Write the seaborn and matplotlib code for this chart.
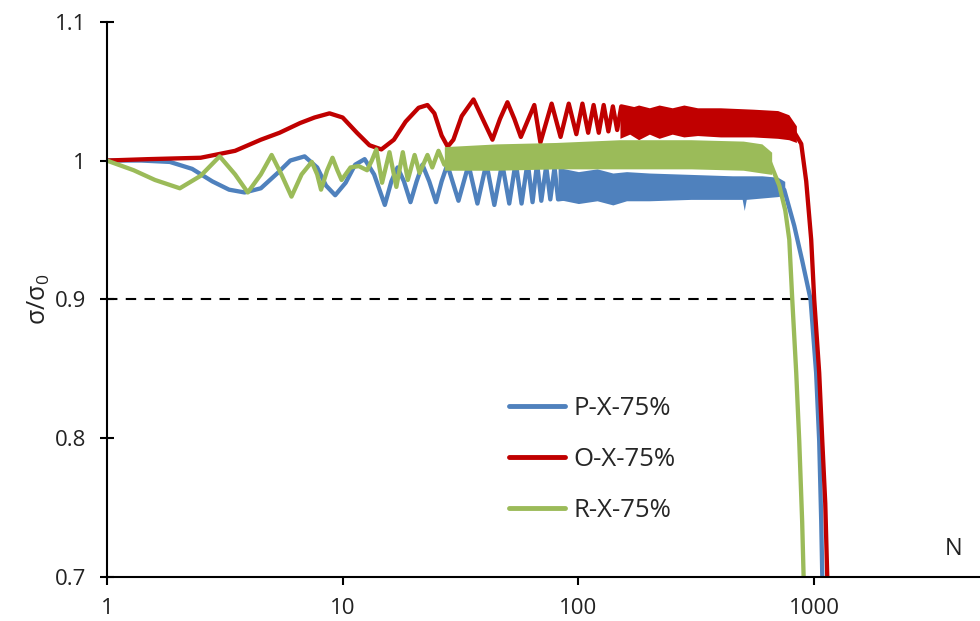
import seaborn as sns
import matplotlib
matplotlib.use("Agg")
import matplotlib.pyplot as plt
import matplotlib.ticker as mticker
import pandas as pd

# (N, sigma/sigma0): resolved waves, then the centre of the dense band, then the drop
P_X_75 = [(1, 1.000), (1.4, 1.000), (1.85, 0.999), (2.3, 0.994), (2.8, 0.985), (3.3, 0.979), (3.84, 0.977),
          (4.5, 0.980), (5.3, 0.991), (6.0, 1.000), (6.9, 1.003), (7.8, 0.995), (8.5, 0.982), (9.3, 0.975),
          (10.3, 0.984), (11.3, 0.997), (12.4, 1.001), (13.6, 0.990), (15.1, 0.968), (16.1, 0.985),
          (17.1, 0.995), (18.2, 0.985), (19.4, 0.970), (20.6, 0.985), (21.8, 0.997), (23.3, 0.985),
          (24.9, 0.970), (26.3, 0.985), (27.8, 0.997), (31.0, 0.971), (34.2, 0.997), (37.3, 0.969),
          (40.7, 0.998), (44.0, 0.968), (47.5, 0.998), (50.9, 0.969), (54.2, 0.999), (57.4, 0.969),
          (60.9, 0.999), (63.9, 0.970), (66.8, 0.998), (69.6, 0.971), (73.0, 0.996), (76.0, 0.972),
          (79.2, 0.995), (82.0, 0.972), (200, 0.981), (400, 0.980), (600, 0.981), (720, 0.981),
          (746, 0.979), (823, 0.953), (889, 0.928), (965, 0.900), (1019, 0.847), (1050, 0.798),
          (1071, 0.740), (1085, 0.690)]

O_X_75 = [(1, 1.000), (1.5, 1.001), (2.5, 1.002), (3.5, 1.007), (4.5, 1.015), (5.4, 1.020), (6.6, 1.027),
          (7.6, 1.031), (8.8, 1.034), (10.0, 1.031), (11.5, 1.020), (13.0, 1.011), (14.6, 1.008),
          (16.5, 1.015), (18.5, 1.028), (21.0, 1.038), (22.9, 1.040), (24.5, 1.034), (26.3, 1.018),
          (27.9, 1.010), (29.5, 1.015), (32.0, 1.032), (35.9, 1.044), (39.0, 1.031), (43.2, 1.015),
          (46.5, 1.030), (50.0, 1.042), (53.5, 1.030), (57.0, 1.017), (65.0, 1.040), (69.0, 1.013),
          (77.0, 1.041), (84.0, 1.017), (91.0, 1.041), (98.0, 1.019), (104, 1.041), (110, 1.020),
          (116, 1.040), (122, 1.020), (128, 1.040), (134, 1.021), (140, 1.039), (146, 1.022),
          (152, 1.039), (300, 1.028), (600, 1.027), (800, 1.024), (881, 1.012), (925, 0.985),
          (971, 0.943), (1000, 0.900), (1050, 0.847), (1082, 0.798), (1114, 0.753), (1140, 0.690)]

R_X_75 = [(1, 1.000), (1.3, 0.993), (1.6, 0.986), (2.04, 0.980), (2.5, 0.989), (3.01, 1.003), (3.5, 0.990),
          (3.96, 0.977), (4.5, 0.990), (5.0, 1.004), (5.5, 0.990), (6.07, 0.974), (6.7, 0.990),
          (7.4, 0.999), (7.8, 0.990), (8.1, 0.979), (8.6, 0.993), (9.06, 1.002), (9.5, 0.993),
          (9.9, 0.986), (10.8, 0.995), (11.7, 0.996), (12.7, 0.993), (13.3, 1.000), (13.9, 1.008),
          (14.7, 0.984), (15.8, 1.006), (16.9, 0.981), (18.0, 1.006), (18.9, 0.986), (20.2, 1.004),
          (21.2, 0.991), (22.9, 1.004), (24.0, 0.995), (25.5, 1.007), (27.0, 0.997), (100, 1.004),
          (300, 1.004), (500, 1.003), (645, 1.000), (711, 0.982), (754, 0.964), (784, 0.943),
          (807, 0.900), (839, 0.847), (864, 0.798), (889, 0.740), (905, 0.690)]

# dense oscillation bands: N, upper edge, lower edge
P_band_N = [82, 100, 120, 140, 160, 200, 300, 450, 495, 505, 515, 600, 700, 750]
P_band_hi = [0.995, 0.992, 0.994, 0.991, 0.992, 0.991, 0.990, 0.989, 0.989, 0.989, 0.989, 0.989, 0.988, 0.985]
P_band_lo = [0.972, 0.969, 0.971, 0.968, 0.971, 0.971, 0.972, 0.972, 0.972, 0.964, 0.972, 0.973, 0.974, 0.975]

O_band_N = [150, 165, 180, 200, 220, 250, 280, 320, 400, 550, 700, 780, 840]
O_band_hi = [1.040, 1.038, 1.040, 1.038, 1.040, 1.038, 1.040, 1.038, 1.038, 1.037, 1.036, 1.033, 1.025]
O_band_lo = [1.016, 1.019, 1.015, 1.019, 1.016, 1.019, 1.017, 1.018, 1.017, 1.017, 1.016, 1.015, 1.013]

R_band_N = [27, 45, 80, 150, 300, 500, 600, 660]
R_band_hi = [1.010, 1.012, 1.013, 1.015, 1.015, 1.014, 1.012, 1.006]
R_band_lo = [0.993, 0.993, 0.994, 0.994, 0.994, 0.993, 0.991, 0.990]

series_names = ["P-X-75%", "O-X-75%", "R-X-75%"]
colors = ["#4F81BD", "#C00000", "#9BBB59"]
limit_value = 0.9

rows = []
for name, pts in zip(series_names, [P_X_75, O_X_75, R_X_75]):
    for n, v in pts:
        rows.append({"N": n, "ratio": v, "series": name})
df = pd.DataFrame(rows)

sns.set_theme(style="white")
plt.rcParams["font.family"] = ["Open Sans", "DejaVu Sans"]
plt.rcParams["mathtext.fontset"] = "custom"
plt.rcParams["mathtext.rm"] = "Open Sans"

fig, ax = plt.subplots(figsize=(9.8, 6.21), dpi=100)
fig.subplots_adjust(left=0.109, right=0.999, bottom=0.071, top=0.965)

sns.lineplot(data=df, x="N", y="ratio", hue="series", hue_order=series_names, palette=colors,
             estimator=None, sort=False, lw=3.1, ax=ax)

bands = [(P_band_N, P_band_hi, P_band_lo), (O_band_N, O_band_hi, O_band_lo), (R_band_N, R_band_hi, R_band_lo)]
for i, (line, (bn, hi, lo)) in enumerate(zip(ax.get_lines()[:3], bands)):
    line.set_zorder(2.1 + i * 0.2)
    ax.fill_between(bn, lo, hi, color=colors[i], lw=0, zorder=2.0 + i * 0.2)

ax.plot([1, 1000], [limit_value, limit_value], color="black", lw=1.5, ls=(0, (5, 4)), zorder=1.5)

ax.set_xscale("log")
ax.set_xlim(1, 5000)
ax.set_ylim(0.7, 1.1)
ax.set_xticks([1, 10, 100, 1000])
ax.set_xticklabels(["1", "10", "100", "1000"])
ax.xaxis.set_minor_locator(mticker.NullLocator())
ax.set_yticks([0.7, 0.8, 0.9, 1.0, 1.1])
ax.set_yticklabels(["0.7", "0.8", "0.9", "1", "1.1"])

for side in ["top", "right"]:
    ax.spines[side].set_visible(False)
for side in ["left", "bottom"]:
    ax.spines[side].set_color("black")
    ax.spines[side].set_linewidth(1.5)

ax.tick_params(axis="y", direction="inout", length=10, width=1.5, color="black", pad=10,
               labelsize=16, labelcolor="#222222", left=True)
ax.tick_params(axis="x", direction="out", length=6, width=1.5, color="black", pad=9,
               labelsize=16, labelcolor="#222222", bottom=True)

ax.set_xlabel("")
ax.set_ylabel("σ/σ$_0$", fontsize=18, color="#222222", labelpad=2)
ax.text(0.971, 0.05, "N", transform=ax.transAxes, fontsize=17, color="#222222", ha="center", va="center")

sns.move_legend(ax, "upper left", bbox_to_anchor=(0.461, 0.326), frameon=False, title=None,
                fontsize=18.5, handlelength=2.2, handletextpad=0.3, labelspacing=1.02,
                borderaxespad=0, borderpad=0)
for h in ax.get_legend().get_lines():
    h.set_linewidth(3.5)

fig.savefig("out.png", dpi=100)
